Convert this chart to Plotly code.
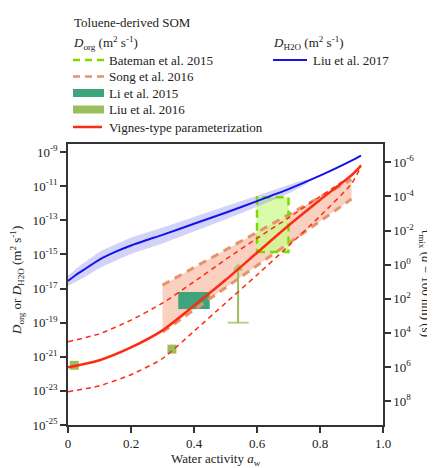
import numpy as np
import plotly.graph_objects as go

# ---------------- data (log10 of D in m^2 s^-1) ----------------
aw_grid = [0, 0.1, 0.2, 0.3, 0.4, 0.5, 0.6, 0.7, 0.8, 0.9, 0.93]
vignes_logD = [-21.62, -21.2, -20.45, -19.45, -18.0, -16.5, -14.9, -13.3, -11.8, -10.35, -9.8]
vignes_upper_logD = [-20.12, -19.65, -18.85, -17.85, -16.6, -15.3, -14.05, -12.85, -11.6, -10.35, -9.75]
vignes_lower_logD = [-23.05, -22.7, -22.05, -21.1, -19.5, -17.85, -16.2, -14.5, -12.75, -10.85, -9.85]

h2o_aw = [0, 0.025, 0.05, 0.1, 0.15, 0.2, 0.25, 0.3, 0.4, 0.5, 0.6, 0.7, 0.8, 0.9, 0.93]
h2o_logD = [-16.55, -16.2, -15.9, -15.3, -14.85, -14.47, -14.15, -13.85, -13.2, -12.55, -11.87, -11.17, -10.38, -9.5, -9.2]
h2o_band_aw = [0, 0.025, 0.05, 0.1, 0.2, 0.3, 0.4, 0.5, 0.6, 0.7, 0.76]
h2o_band_hi = [-16.25, -15.85, -15.5, -14.85, -14.02, -13.42, -12.8, -12.17, -11.55, -10.92, -10.6]
h2o_band_lo = [-16.85, -16.6, -16.35, -15.8, -14.97, -14.35, -13.65, -12.95, -12.2, -11.42, -10.8]

song_aw = [0.3, 0.9]
song_top_logD = [-16.8, -10.6]
song_bottom_logD = [-19.55, -11.75]

bateman_aw = [0.6, 0.7]
bateman_logD = [-14.85, -11.65]

li_aw = [0.35, 0.45]
li_logD = [-18.2, -17.2]

liu16_aw = [0.02, 0.33]
liu16_logD = [-21.5, -20.55]
liu16_range_aw = 0.54
liu16_range_logD = [-19.0, -15.8]

y_tick_exp = [-25, -23, -21, -19, -17, -15, -13, -11, -9]
tau_tick_exp = [8, 6, 4, 2, 0, -2, -4, -6]
x_ticks = [0, 0.2, 0.4, 0.6, 0.8, 1.0]
x_ticklabels = ["0", "0.2", "0.4", "0.6", "0.8", "1.0"]

legend_left = ["Bateman et al. 2015", "Song et al. 2016", "Li et al. 2015",
               "Liu et al. 2016", "Vignes-type parameterization"]
legend_right = ["Liu et al. 2017"]

d_particle = 100e-9  # m
logD_range = [-25, -8.52]

# ---------------- helpers ----------------
def D(arr):
    return [10.0 ** v for v in arr]

FONT = "Liberation Serif"
TXT = "#222222"
RED = "#FF2A12"
BLUE = "#1414E6"
ORANGE = "#E8926C"
GREEN = "#77DD00"
TEAL = "#3FA47B"
OLIVE = "#9CBD5C"

OFF = 8  # page body margin
W, H = 435 - OFF, 468 - OFF
ML, MT = 68 - OFF, 144 - OFF
PW, PH = 315, 281
MR, MB = W - ML - PW, H - MT - PH


def px(xs):  # screen pixel -> paper x
    return (xs - OFF - ML) / PW


def py(ys):  # screen pixel -> paper y
    return (MT + PH - (ys - OFF)) / PH


fig = go.Figure()

# Song et al. 2016 filled region
sx = [song_aw[0], song_aw[1], song_aw[1], song_aw[0], song_aw[0]]
sy = [song_bottom_logD[0], song_bottom_logD[1], song_top_logD[1], song_top_logD[0], song_bottom_logD[0]]
fig.add_trace(go.Scatter(x=sx, y=D(sy), mode="lines", fill="toself",
                         fillcolor="rgba(244,150,115,0.45)", line=dict(width=0),
                         hoverinfo="skip"))

# Bateman fill
bx = [bateman_aw[0], bateman_aw[1], bateman_aw[1], bateman_aw[0], bateman_aw[0]]
by = [bateman_logD[0], bateman_logD[0], bateman_logD[1], bateman_logD[1], bateman_logD[0]]
fig.add_trace(go.Scatter(x=bx, y=D(by), mode="lines", fill="toself",
                         fillcolor="rgba(205,250,140,0.75)", line=dict(width=0),
                         hoverinfo="skip"))

# H2O band
band_x = h2o_band_aw + h2o_band_aw[::-1]
band_y = h2o_band_hi + h2o_band_lo[::-1]
fig.add_trace(go.Scatter(x=band_x, y=D(band_y), mode="lines", fill="toself",
                         fillcolor="rgba(140,140,240,0.38)",
                         line=dict(width=0, shape="spline", smoothing=0.5),
                         hoverinfo="skip"))

# Li et al. 2015 box
lx = [li_aw[0], li_aw[1], li_aw[1], li_aw[0], li_aw[0]]
ly = [li_logD[0], li_logD[0], li_logD[1], li_logD[1], li_logD[0]]
fig.add_trace(go.Scatter(x=lx, y=D(ly), mode="lines", fill="toself",
                         fillcolor=TEAL, line=dict(width=0),
                         name="Li et al. 2015", hoverinfo="skip"))

# Liu et al. 2016 squares
fig.add_trace(go.Scatter(x=liu16_aw, y=D(liu16_logD), mode="markers",
                         marker=dict(symbol="square", size=9, color=OLIVE),
                         name="Liu et al. 2016", hoverinfo="skip"))
# Liu et al. 2016 lower-limit bar
fig.add_trace(go.Scatter(x=[liu16_range_aw, liu16_range_aw], y=D(liu16_range_logD),
                         mode="lines+markers", line=dict(color=OLIVE, width=2),
                         marker=dict(symbol=["line-ew", "triangle-up"], size=[15, 7],
                                     color=OLIVE, line=dict(color=OLIVE, width=2)),
                         name="Liu et al. 2016", hoverinfo="skip"))

# Song dashed edges
fig.add_trace(go.Scatter(x=song_aw, y=D(song_top_logD), mode="lines",
                         line=dict(color=ORANGE, width=3, dash="8px,6px"),
                         name="Song et al. 2016", hoverinfo="skip"))
fig.add_trace(go.Scatter(x=song_aw, y=D(song_bottom_logD), mode="lines",
                         line=dict(color=ORANGE, width=3, dash="8px,6px"),
                         name="Song et al. 2016", hoverinfo="skip"))

# Bateman dashed outline
fig.add_trace(go.Scatter(x=bx, y=D(by), mode="lines",
                         line=dict(color=GREEN, width=2.5, dash="8px,5px"),
                         name="Bateman et al. 2015", hoverinfo="skip"))

# Vignes dashed bounds
for arr in (vignes_upper_logD, vignes_lower_logD):
    fig.add_trace(go.Scatter(x=aw_grid, y=D(arr), mode="lines",
                             line=dict(color=RED, width=1.5, dash="5px,4px", shape="spline", smoothing=0.6),
                             hoverinfo="skip"))
# Vignes solid
fig.add_trace(go.Scatter(x=aw_grid, y=D(vignes_logD), mode="lines",
                         line=dict(color=RED, width=2.5, shape="spline", smoothing=0.6),
                         name="Vignes-type parameterization", hoverinfo="skip"))

# Liu et al. 2017 D_H2O
fig.add_trace(go.Scatter(x=h2o_aw, y=D(h2o_logD), mode="lines",
                         line=dict(color=BLUE, width=2, shape="spline", smoothing=0.6),
                         name="Liu et al. 2017", hoverinfo="skip"))

# dummy trace for right axis
fig.add_trace(go.Scatter(x=[None], y=[None], yaxis="y2", hoverinfo="skip"))

# ---------------- axes ----------------
c_tau = np.log10(d_particle ** 2 / (4 * np.pi ** 2))
tau_range = [c_tau - logD_range[0], c_tau - logD_range[1]]

axis_common = dict(showgrid=False, zeroline=False, linecolor="#333333", linewidth=1.5,
                   ticks="outside", ticklen=6, tickwidth=1.5, tickcolor="#333333",
                   automargin=False,
                   tickfont=dict(family=FONT, size=13, color=TXT))

# ---------------- manual legend ----------------
shapes = []
annotations = []


def txt(text, xs, ys, **kw):
    d = dict(text=text, xref="paper", yref="paper", x=px(xs), y=py(ys),
             xanchor="left", yanchor="middle", showarrow=False,
             font=dict(family=FONT, size=13, color=TXT))
    d.update(kw)
    annotations.append(d)


def key_line(x0, x1, ys, color, width, dash="solid"):
    shapes.append(dict(type="line", xref="paper", yref="paper",
                       x0=px(x0), x1=px(x1), y0=py(ys), y1=py(ys),
                       line=dict(color=color, width=width, dash=dash)))


def key_box(x0, x1, ys, color, h=8):
    shapes.append(dict(type="rect", xref="paper", yref="paper",
                       x0=px(x0), x1=px(x1), y0=py(ys - h / 2), y1=py(ys + h / 2),
                       fillcolor=color, line=dict(width=0)))


txt("Toluene-derived SOM", 72, 22)
txt("<i>D</i><sub>org</sub> (m<sup>2</sup> s<sup>-1</sup>)", 71, 43)
txt("<i>D</i><sub>H2O</sub> (m<sup>2</sup> s<sup>-1</sup>)", 271, 43)

rows = [60, 76.5, 93, 109.5, 127]
key_line(73, 105, rows[0], GREEN, 2.5, "7px,5px")
key_line(73, 105, rows[1], ORANGE, 2.5, "7px,5px")
key_box(73, 104, rows[2], TEAL)
key_box(73, 104, rows[3], OLIVE)
key_line(73, 102, rows[4], RED, 2.5)
for label, ys in zip(legend_left, rows):
    txt(label, 107, ys)
key_line(273, 307, rows[0], BLUE, 2)
txt(legend_right[0], 311, rows[0])

# axis titles
annotations.append(dict(text="<i>D</i><sub>org</sub> or <i>D</i><sub>H2O</sub> (m<sup>2</sup> s<sup>-1</sup>)",
                        xref="paper", yref="paper", x=px(17), y=py(281), textangle=-90,
                        xanchor="center", yanchor="middle", showarrow=False,
                        font=dict(family=FONT, size=13, color=TXT)))
annotations.append(dict(text="τ<sub>mix</sub> (<i>d</i> = 100 nm) (s)",
                        xref="paper", yref="paper", x=px(426), y=py(283), textangle=90,
                        xanchor="center", yanchor="middle", showarrow=False,
                        font=dict(family=FONT, size=13, color=TXT)))
annotations.append(dict(text="Water activity <i>a</i><sub>w</sub>",
                        xref="paper", yref="paper", x=px(216), y=py(459),
                        xanchor="center", yanchor="middle", showarrow=False,
                        font=dict(family=FONT, size=13, color=TXT)))

fig.update_layout(
    width=W, height=H,
    margin=dict(l=ML, r=MR, t=MT, b=MB, autoexpand=False),
    paper_bgcolor="white", plot_bgcolor="white",
    showlegend=False,
    font=dict(family=FONT, size=13, color=TXT),
    xaxis=dict(range=[0, 1], tickvals=x_ticks, ticktext=x_ticklabels,
               showline=True, mirror=True, **axis_common),
    yaxis=dict(type="log", range=logD_range,
               tickvals=[10.0 ** e for e in y_tick_exp],
               ticktext=["10<sup>%d</sup>" % e for e in y_tick_exp],
               showline=True, **axis_common),
    yaxis2=dict(type="log", range=tau_range, overlaying="y", side="right",
                tickvals=[10.0 ** e for e in tau_tick_exp],
                ticktext=["10<sup>%d</sup>" % e for e in tau_tick_exp],
                showline=True, **axis_common),
    shapes=shapes,
    annotations=annotations,
)

fig.write_html("out.html")
